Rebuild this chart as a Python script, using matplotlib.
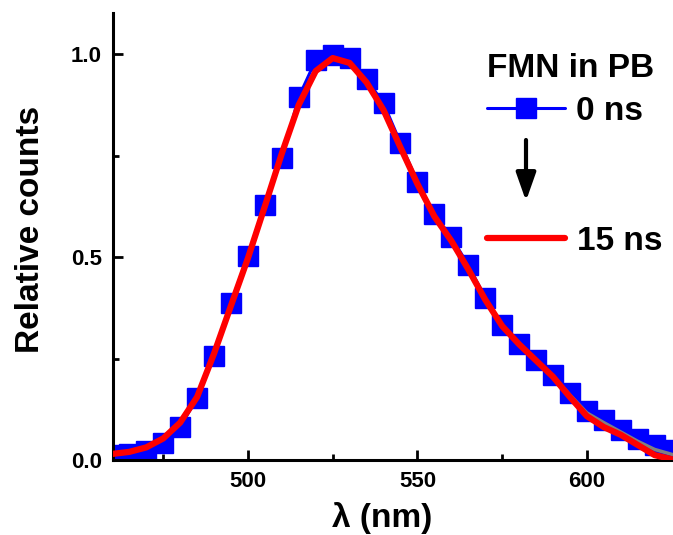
import numpy as np
import matplotlib.pyplot as plt
from matplotlib.lines import Line2D

plt.rcParams['font.family'] = ['Liberation Sans', 'DejaVu Sans']
plt.rcParams['font.weight'] = 'bold'

# emission spectrum at 0 ns (blue squares)
wl_0ns = [460, 465, 470, 475, 480, 485, 490, 495, 500, 505, 510, 515, 520, 525,
          530, 535, 540, 545, 550, 555, 560, 565, 570, 575, 580, 585, 590, 595,
          600, 605, 610, 615, 620, 625]
counts_0ns = [0.012, 0.016, 0.022, 0.042, 0.081, 0.153, 0.256, 0.387, 0.502, 0.628,
              0.744, 0.894, 0.985, 0.998, 0.990, 0.938, 0.879, 0.781, 0.685, 0.605,
              0.549, 0.480, 0.400, 0.333, 0.286, 0.246, 0.209, 0.165, 0.121, 0.099,
              0.074, 0.052, 0.037, 0.025]

# intermediate delays (grey, only visible in the red tail)
wl_mid = [575, 580, 585, 590, 595, 600, 605, 610, 615, 620, 625]
counts_mid = [0.332, 0.286, 0.246, 0.207, 0.160, 0.116, 0.092, 0.069, 0.046, 0.026, 0.014]

# emission spectrum at 15 ns (red line)
wl_15ns = wl_0ns
counts_15ns = [0.015, 0.020, 0.031, 0.053, 0.092, 0.155, 0.262, 0.380, 0.497, 0.625,
               0.755, 0.875, 0.958, 0.990, 0.978, 0.930, 0.862, 0.770, 0.680, 0.600,
               0.540, 0.470, 0.395, 0.330, 0.285, 0.245, 0.205, 0.155, 0.108, 0.081,
               0.062, 0.037, 0.012, 0.002]

W, H = 673, 535
fig = plt.figure(figsize=(W / 100, H / 100), dpi=100)
ax = fig.add_axes([113 / W, 1 - 460 / H, 560 / W, 447 / H])

ax.plot(wl_0ns, counts_0ns, color='#0000ff', lw=2.2, marker='s', ms=14,
        mec='#0000ff', zorder=2)
ax.plot(wl_mid, counts_mid, color='#808080', lw=2.5, zorder=2.5)
ax.plot(wl_15ns, counts_15ns, color='#ff0000', lw=4.5, zorder=3,
        solid_capstyle='round')

ax.set_xlim(460.2, 625.4)
ax.set_ylim(0, 1.101)
ax.set_xticks([500, 550, 600])
ax.set_xticks([475, 525, 575], minor=True)
ax.set_yticks([0.0, 0.5, 1.0])
ax.set_yticks([0.25, 0.75], minor=True)
ax.set_yticklabels(['0.0', '0.5', '1.0'])

for side in ['top', 'right']:
    ax.spines[side].set_visible(False)
for side in ['left', 'bottom']:
    ax.spines[side].set_linewidth(2.2)

ax.tick_params(which='major', direction='in', length=7, width=2, labelsize=16, pad=8)
ax.tick_params(which='minor', direction='in', length=4, width=2)

ax.set_xlabel('λ (nm)', fontsize=24, fontweight='bold')
ax.set_ylabel('Relative counts', fontsize=24, fontweight='bold')
ax.xaxis.set_label_coords(0.48, -0.093)
ax.yaxis.set_label_coords(-0.12, 0.515)

# hand-made legend
def fx(px):
    return px / W

def fy(py):
    return 1 - py / H

fig.text(fx(487), fy(77), 'FMN in PB', fontsize=24, fontweight='bold', va='baseline')
fig.add_artist(Line2D([fx(487), fx(565)], [fy(108), fy(108)], color='#0000ff', lw=2.2,
                      solid_capstyle='round'))
fig.add_artist(Line2D([fx(526)], [fy(108)], color='#0000ff', marker='s', ms=14))
fig.text(fx(576), fy(120), '0 ns', fontsize=24, fontweight='bold', va='baseline')

fig.add_artist(Line2D([fx(487), fx(565)], [fy(238), fy(238)], color='#ff0000', lw=4.5,
                      solid_capstyle='round'))
fig.text(fx(577), fy(250), '15 ns', fontsize=24, fontweight='bold', va='baseline')

ax.annotate('', xy=(fx(526), fy(201)), xytext=(fx(526), fy(140)),
            xycoords='figure fraction', textcoords='figure fraction',
            arrowprops=dict(arrowstyle='-|>,head_length=1.7,head_width=0.6',
                            color='black', lw=3, shrinkA=0, shrinkB=0))

fig.savefig('out.png', dpi=100)
